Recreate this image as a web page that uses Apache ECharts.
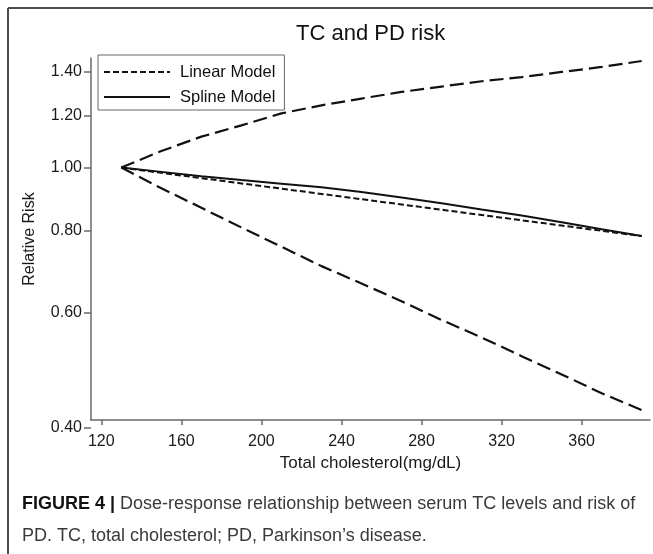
<!DOCTYPE html>
<html><head><meta charset="utf-8">
<script src="https://cdn.jsdelivr.net/npm/echarts@6/dist/echarts.min.js"></script>
<style>html,body{margin:0;padding:0;background:#fff}#c{width:653px;height:554px}</style>
</head><body><div id="c"></div>
<script>
const cholesterol = [130,150,170,190,210,230,250,270,290,310,330,350,370,390];
const linearModel = [1.000,0.9816,0.9636,0.9459,0.9285,0.9115,0.8947,0.8783,0.8622,0.8463,0.8308,0.8155,0.8005,0.7858];
const splineModel = [1.000,0.985,0.970,0.957,0.945,0.933,0.918,0.900,0.882,0.863,0.845,0.825,0.805,0.786];
const upperCI = [1.000,1.060,1.115,1.160,1.210,1.245,1.275,1.305,1.330,1.355,1.375,1.400,1.425,1.455];
const lowerCI = [1.000,0.930,0.868,0.810,0.757,0.707,0.665,0.625,0.585,0.550,0.515,0.483,0.452,0.426];
const xTicks = [120,160,200,240,280,320,360];
const yTicks = [0.40,0.60,0.80,1.00,1.20,1.40];

const FONT = '"Liberation Sans", Arial, sans-serif';
const AX = {color:'#6a6a6a', width:1.5};
const pairs = arr => cholesterol.map((x,i)=>[x, arr[i]]);

const chart = echarts.init(document.getElementById('c'), null, {renderer:'canvas'});
chart.setOption({
  backgroundColor:'#fff',
  animation:false,
  textStyle:{fontFamily:FONT},
  title:{text:'TC and PD risk', left:296, top:23, padding:0,
    textStyle:{fontSize:22, fontWeight:'normal', color:'#111', fontFamily:FONT}},
  legend:{data:['Linear Model','Spline Model'], left:98, top:55, orient:'vertical',
    padding:[8,9,4,5], itemGap:7, itemWidth:66, itemHeight:14,
    borderColor:'#666', borderWidth:1, backgroundColor:'#fff',
    itemStyle:{opacity:0},
    textStyle:{fontSize:16.5, color:'#111', lineHeight:18, padding:[0,0,0,5], fontFamily:FONT}},
  grid:[
    {left:91, right:3, top:58, height:362},
    {left:91, right:3, top:58, height:370}
  ],
  xAxis:[
    {gridIndex:0, type:'value', min:114.85, max:394.15,
      axisLine:{show:true, lineStyle:AX},
      axisTick:{show:true, customValues:xTicks, length:5, lineStyle:AX},
      axisLabel:{customValues:xTicks, margin:14, fontSize:16, color:'#1a1a1a', fontFamily:FONT},
      splitLine:{show:false},
      name:'Total cholesterol(mg/dL)', nameLocation:'middle', nameGap:31,
      nameTextStyle:{fontSize:17, color:'#1a1a1a', fontFamily:FONT}},
    {gridIndex:1, type:'value', min:114.85, max:394.15, show:false}
  ],
  yAxis:[
    {gridIndex:0, type:'log', min:0.4114, max:1.4705,
      axisLine:{show:true, lineStyle:AX},
      axisTick:{show:false}, axisLabel:{show:false}, splitLine:{show:false},
      name:'Relative Risk', nameLocation:'middle', nameGap:53, nameRotate:90,
      nameTextStyle:{fontSize:16, color:'#1a1a1a', fontFamily:FONT}},
    {gridIndex:1, type:'log', min:0.4, max:1.4705,
      axisLine:{show:false},
      axisTick:{show:true, customValues:yTicks, length:7, lineStyle:AX},
      axisLabel:{customValues:yTicks, margin:9, fontSize:16, color:'#1a1a1a', fontFamily:FONT,
        formatter:v=>Number(v).toFixed(2)},
      splitLine:{show:false}, splitArea:{show:false}, minorTick:{show:false}}
  ],
  series:[
    {name:'Upper CI', type:'line', xAxisIndex:0, yAxisIndex:0, symbol:'none', data:pairs(upperCI),
      lineStyle:{color:'#111', width:2.2, type:[14,6]}},
    {name:'Lower CI', type:'line', xAxisIndex:0, yAxisIndex:0, symbol:'none', data:pairs(lowerCI),
      lineStyle:{color:'#111', width:2.2, type:[14,6]}},
    {name:'Linear Model', type:'line', xAxisIndex:0, yAxisIndex:0, symbol:'none', data:pairs(linearModel),
      lineStyle:{color:'#111', width:2, type:[6,3]}, itemStyle:{color:'#111'}},
    {name:'Spline Model', type:'line', xAxisIndex:0, yAxisIndex:0, symbol:'none', data:pairs(splineModel),
      lineStyle:{color:'#111', width:2, type:'solid'}, itemStyle:{color:'#111'}}
  ],
  graphic:[
    {type:'line', shape:{x1:8,y1:8,x2:665,y2:8}, style:{stroke:'#4d4d4d', lineWidth:2}, silent:true},
    {type:'line', shape:{x1:8,y1:8,x2:8,y2:565}, style:{stroke:'#4d4d4d', lineWidth:2}, silent:true},
    {type:'text', left:22, top:495, style:{
      text:'{b|FIGURE 4 |} Dose-response relationship between serum TC levels and risk of',
      fontSize:18, fill:'#3a3a3a', fontFamily:FONT,
      rich:{b:{fontWeight:'bold', fill:'#111', fontSize:18, fontFamily:FONT}}}},
    {type:'text', left:22, top:527, style:{
      text:'PD. TC, total cholesterol; PD, Parkinson\u2019s disease.',
      fontSize:18, fill:'#3a3a3a', fontFamily:FONT}}
  ]
});
</script></body></html>
